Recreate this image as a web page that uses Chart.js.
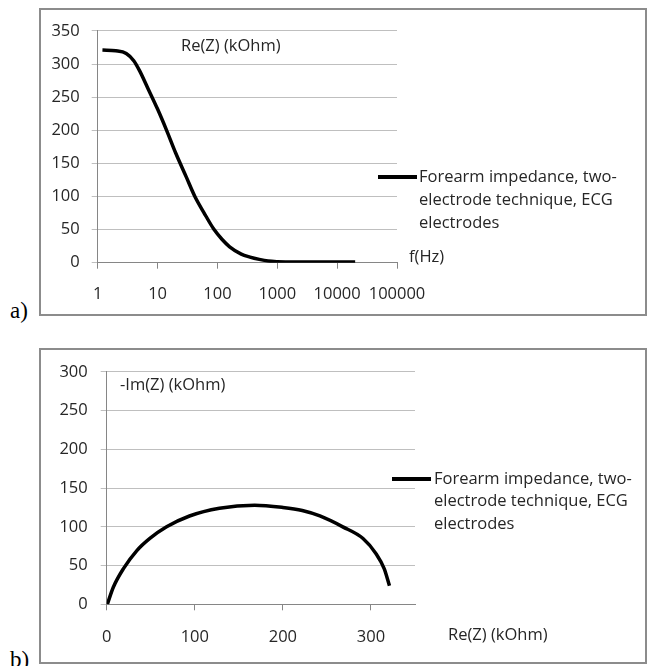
<!DOCTYPE html>
<html>
<head>
<meta charset="utf-8">
<script src="https://cdn.jsdelivr.net/npm/chart.js@4.4.1/dist/chart.umd.min.js"></script>
<style>
  body { margin: 0; background: #fff; width: 648px; height: 666px; position: relative; overflow: hidden; }
  .frame { position: absolute; border: 2px solid #8c8c8c; box-sizing: border-box; }
  .box { position: absolute; }
  .tag { position: absolute; font-family: 'Liberation Serif', 'DejaVu Serif', serif; font-size: 23px; color: #000; line-height: 1; }
</style>
</head>
<body>
<div class="frame" style="left:39px;top:8px;width:608px;height:308px"></div>
<div class="frame" style="left:39px;top:348px;width:608px;height:316px"></div>
<div class="tag" style="left:10px;top:299px">a)</div>
<div class="tag" style="left:10px;top:648px">b)</div>
<div class="box" style="left:40px;top:9px"><canvas id="chart-re" width="605" height="305"></canvas></div>
<div class="box" style="left:40px;top:349px"><canvas id="chart-nyq" width="605" height="313"></canvas></div>

<script>
// ─── DATA ────────────────────────────────────────────────────────────────────
const seriesLabel = 'Forearm impedance, two-electrode technique, ECG electrodes';
const legendLines = ['Forearm impedance, two-', 'electrode technique, ECG', 'electrodes'];

// a) Re(Z) vs frequency
const freqHz = [1.2, 2, 3, 4, 5, 7, 10, 14, 20, 30, 42, 60, 88, 120, 160, 250, 350, 500, 700, 1000, 2000, 5000, 10000, 20000];
const reZ    = [321, 320, 316, 305, 290, 262, 232, 201, 166, 130, 100, 75, 50, 35, 24, 13, 8.5, 5, 2.5, 1.5, 1, 1, 1, 1];
const freqTicks = [1, 10, 100, 1000, 10000, 100000];
const reTicks = [0, 50, 100, 150, 200, 250, 300, 350];

// b) -Im(Z) vs Re(Z)
const nyqRe = [0.7, 7.5, 19, 34, 49, 68, 94, 128, 168, 200, 222, 242, 268, 291, 306, 315, 321];
const nyqIm = [0, 22, 46, 69, 85, 100, 114, 124, 128, 125, 121, 114, 100, 85, 65, 46, 24];
const nyqXTicks = [0, 100, 200, 300];
const nyqYTicks = [0, 50, 100, 150, 200, 250, 300];

// ─── STYLE ───────────────────────────────────────────────────────────────────
const FONT = { family: "'Open Sans'", size: 16.5 };
const TEXT = '#262626';
const GRID = '#bfbfbf';
const AXIS = '#868686';
Chart.defaults.font.family = FONT.family;
Chart.defaults.font.size = FONT.size;
Chart.defaults.color = TEXT;

// free text + legend drawn on the canvas
const labelsPlugin = {
  id: 'labels',
  afterDraw(chart, args, opts) {
    const ctx = chart.ctx;
    ctx.save();
    ctx.font = `${FONT.size}px ${FONT.family}`;
    ctx.fillStyle = TEXT;
    ctx.textBaseline = 'middle';
    ctx.textAlign = 'left';
    (opts.texts || []).forEach(t => ctx.fillText(t.text, t.x, t.y));
    const lg = opts.legend;
    if (lg) {
      ctx.strokeStyle = '#000';
      ctx.lineWidth = 4;
      ctx.beginPath();
      ctx.moveTo(lg.x0, lg.y);
      ctx.lineTo(lg.x1, lg.y);
      ctx.stroke();
      legendLines.forEach((l, i) => ctx.fillText(l, lg.tx, lg.y + i * lg.step));
    }
    ctx.restore();
  }
};

function fixTicks(list) {
  return scale => { scale.ticks = list.map(v => ({ value: v })); };
}

// ─── CHART A ─────────────────────────────────────────────────────────────────
new Chart(document.getElementById('chart-re'), {
  type: 'line',
  data: {
    datasets: [{
      label: seriesLabel,
      data: freqHz.map((f, i) => ({ x: f, y: reZ[i] })),
      borderColor: '#000',
      borderWidth: 3.5,
      pointRadius: 0,
      cubicInterpolationMode: 'monotone',
      fill: false
    }]
  },
  options: {
    responsive: false,
    animation: false,
    layout: { padding: { left: 0, top: 11.5, right: 248, bottom: 0 } },
    plugins: {
      legend: { display: false },
      tooltip: { enabled: false },
      labels: {
        texts: [
          { text: 'Re(Z) (kOhm)', x: 141, y: 37 },
          { text: 'f(Hz)', x: 369, y: 248 }
        ],
        legend: { x0: 338, x1: 377, tx: 379, y: 168, step: 23 }
      }
    },
    scales: {
      x: {
        type: 'logarithmic',
        min: 1, max: 100000,
        afterBuildTicks: fixTicks(freqTicks),
        afterFit: s => { s.height = 51.3; },
        grid: { drawOnChartArea: false, tickLength: 6, tickColor: AXIS },
        border: { color: AXIS },
        ticks: { padding: 16, maxRotation: 0, autoSkip: false, callback: v => String(v) }
      },
      y: {
        min: 0, max: 350,
        afterBuildTicks: fixTicks(reTicks),
        afterFit: s => { s.width = 57.7; },
        grid: { color: GRID, tickLength: 6, tickColor: GRID },
        border: { color: AXIS },
        ticks: { padding: 12 }
      }
    }
  },
  plugins: [labelsPlugin]
});

// ─── CHART B ─────────────────────────────────────────────────────────────────
new Chart(document.getElementById('chart-nyq'), {
  type: 'line',
  data: {
    datasets: [{
      label: seriesLabel,
      data: nyqRe.map((r, i) => ({ x: r, y: nyqIm[i] })),
      borderColor: '#000',
      borderWidth: 3.5,
      pointRadius: 0,
      cubicInterpolationMode: 'monotone',
      fill: false
    }]
  },
  options: {
    responsive: false,
    animation: false,
    layout: { padding: { left: 0, top: 11, right: 230, bottom: 0 } },
    plugins: {
      legend: { display: false },
      tooltip: { enabled: false },
      labels: {
        texts: [
          { text: '-Im(Z) (kOhm)', x: 80, y: 36 },
          { text: 'Re(Z) (kOhm)', x: 408, y: 286 }
        ],
        legend: { x0: 352, x1: 391, tx: 394, y: 130, step: 22.5 }
      }
    },
    scales: {
      x: {
        type: 'linear',
        min: 0, max: 350,
        afterBuildTicks: fixTicks(nyqXTicks),
        afterFit: s => { s.height = 57.7; },
        grid: { drawOnChartArea: false, tickLength: 6, tickColor: AXIS },
        border: { color: AXIS },
        ticks: { padding: 17, maxRotation: 0, autoSkip: false }
      },
      y: {
        min: 0, max: 300,
        afterBuildTicks: fixTicks(nyqYTicks),
        afterFit: s => { s.width = 66.7; },
        grid: { color: GRID, tickLength: 6, tickColor: GRID },
        border: { color: AXIS },
        ticks: { padding: 13 }
      }
    }
  },
  plugins: [labelsPlugin]
});
</script>
</body>
</html>
